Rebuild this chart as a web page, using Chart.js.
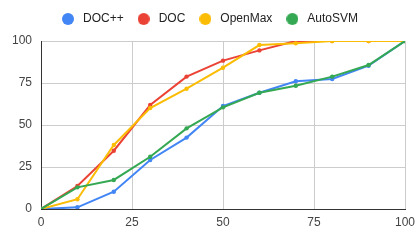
<!DOCTYPE html>
<html><head><meta charset="utf-8">
<script src="https://cdn.jsdelivr.net/npm/chart.js@4"></script>
<style>html,body{margin:0;padding:0;background:#fff}#wrap{width:420px;height:242px}</style>
</head><body><div id="wrap"><canvas id="c" width="420" height="242"></canvas></div>
<script>
const xValues = [0, 10, 20, 30, 40, 50, 60, 70, 80, 90, 100];
const seriesNames = ['DOC++', 'DOC', 'OpenMax', 'AutoSVM'];
const docppValues = [0, 1, 10.3, 29.2, 42.5, 61.3, 69.2, 76, 77.4, 85.3, 100];
const docValues = [0, 13.7, 34.7, 61.9, 78.8, 88.3, 94.4, 100, 100, 100, 100];
const openmaxValues = [0, 5.8, 38.1, 60.1, 71.6, 84.1, 97.6, 98.6, 100, 100, 100];
const autosvmValues = [0, 12.9, 17.3, 31.1, 48, 60.5, 69.2, 73.4, 78.8, 85.7, 100];
const xTicks = [0, 25, 50, 75, 100];
const yTicks = [0, 25, 50, 75, 100];

const colors = ['#4285F4', '#EA4335', '#FBBC04', '#34A853'];
const allSeries = [docppValues, docValues, openmaxValues, autosvmValues];

function circleImg(color) {
  const cv = document.createElement('canvas');
  cv.width = 12; cv.height = 12;
  const g = cv.getContext('2d');
  g.fillStyle = color;
  g.beginPath(); g.arc(6, 6, 6, 0, Math.PI * 2); g.fill();
  return cv;
}
const legendImgs = colors.map(circleImg);

Chart.defaults.font.family = '"Liberation Sans", Arial, sans-serif';
Chart.defaults.font.size = 12;

const datasets = seriesNames.map((name, i) => ({
  label: name,
  data: xValues.map((x, j) => ({ x: x, y: allSeries[i][j] })),
  borderColor: colors[i],
  backgroundColor: colors[i],
  borderWidth: 2,
  pointRadius: 2.2,
  pointHoverRadius: 2.2,
  pointBorderWidth: 0,
  tension: 0,
  order: seriesNames.length - i
}));

const legendHeightPlugin = {
  id: 'legendHeight',
  beforeLayout(chart) {
    const lg = chart.legend;
    if (lg && !lg._patched) {
      const f = lg.fit.bind(lg);
      lg.fit = function () { f(); this.height = 41; };
      lg._patched = true;
    }
  },
  afterLayout(chart) {
    const lg = chart.legend;
    if (lg) { lg.left += 6; lg.right += 6; lg.top += 2; lg.bottom += 2; }
  }
};

new Chart(document.getElementById('c'), {
  type: 'line',
  data: { datasets: datasets },
  plugins: [legendHeightPlugin],
  options: {
    responsive: false,
    animation: false,
    layout: { padding: { left: 0, right: 15, top: 0, bottom: 0 } },
    plugins: {
      tooltip: { enabled: false },
      legend: {
        position: 'top',
        align: 'center',
        labels: {
          usePointStyle: true,
          pointStyleWidth: 18,
          boxHeight: 12,
          padding: 11,
          color: '#222',
          font: { size: 12 },
          generateLabels(chart) {
            const items = Chart.defaults.plugins.legend.labels.generateLabels(chart);
            items.forEach(it => { it.pointStyle = legendImgs[it.datasetIndex]; });
            return items;
          },
          sort: (a, b) => a.datasetIndex - b.datasetIndex
        }
      }
    },
    scales: {
      x: {
        type: 'linear',
        min: 0, max: 100,
        afterBuildTicks(s) { s.ticks = xTicks.map(v => ({ value: v })); },
        afterFit(s) { s.height = 33; s.paddingLeft = 0; s.paddingRight = 0; },
        ticks: { color: '#444', padding: 6, maxRotation: 0, font: { size: 12 } },
        grid: { color: '#cccccc', lineWidth: 1, drawTicks: false },
        border: { color: '#333333', width: 1 }
      },
      y: {
        type: 'linear',
        min: 0, max: 100,
        afterBuildTicks(s) { s.ticks = yTicks.map(v => ({ value: v })); },
        afterFit(s) { s.width = 41; s.paddingTop = 0; s.paddingBottom = 0; },
        ticks: { color: '#444', padding: 9, font: { size: 12 } },
        grid: { color: '#cccccc', lineWidth: 1, drawTicks: false },
        border: { color: '#333333', width: 1 }
      }
    }
  }
});
</script>
</body></html>
